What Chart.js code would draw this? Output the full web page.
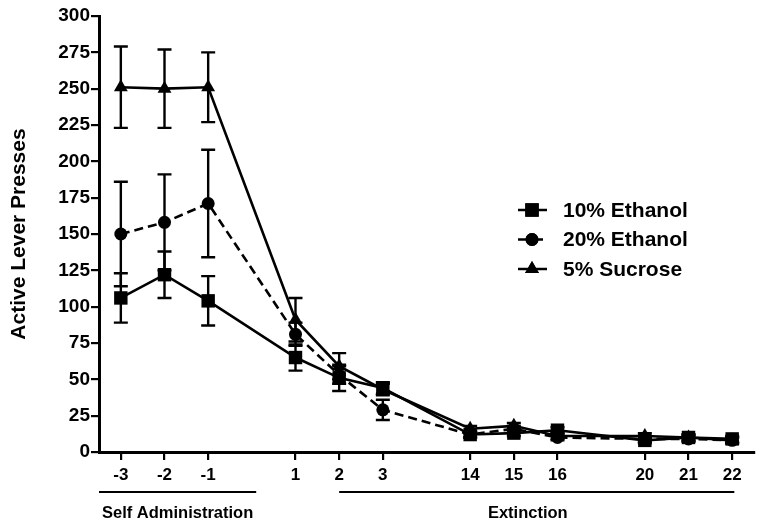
<!DOCTYPE html>
<html>
<head>
<meta charset="utf-8">
<script src="https://cdn.jsdelivr.net/npm/chart.js@4"></script>
<style>
  html, body { margin: 0; padding: 0; background: #fff; }
  #wrap { width: 764px; height: 529px; }
</style>
</head>
<body>
<div id="wrap"><canvas id="myChart" width="764" height="529"></canvas></div>
<script>
// sessions on the x axis, placed on an index scale with gaps between blocks
const sessions = ['-3', '-2', '-1', '1', '2', '3', '14', '15', '16', '20', '21', '22'];
const slots = [0, 1, 2, 4, 5, 6, 8, 9, 10, 12, 13, 14];

const eth10 = [106, 122, 104, 65, 51, 44, 12, 13, 15, 8, 10, 9];
const eth10Err = [17, 16, 17, 9, 9, 4, 2, 2, 2, 2, 2, 2];
const eth20 = [150, 158, 171, 81, 53, 29, 12, 16, 10, 9, 9, 8];
const eth20Err = [36, 33, 37, 8, 6, 7, 2, 2, 2, 2, 2, 2];
const sucrose = [251, 250, 251, 91, 59, 43, 16, 18, 11, 11, 10, 8];
const sucroseErr = [28, 27, 24, 15, 9, 4, 2, 2, 2, 2, 2, 2];

const yTicks = [0, 25, 50, 75, 100, 125, 150, 175, 200, 225, 250, 275, 300];

// phases under the axis (in slot units)
const phases = ['Self Administration', 'Extinction'];
const phaseFrom = [-0.5, 5];
const phaseTo = [3.1, 14.05];

const FONT = 'Liberation Sans, Arial, sans-serif';

function toPts(vals, errs) {
  return vals.map((v, i) => ({ x: slots[i], y: v, err: errs[i] }));
}

// error bars drawn through the chart scales
const errorBars = {
  id: 'errorBars',
  afterDatasetsDraw(chart) {
    const ctx = chart.ctx;
    const xs = chart.scales.x, ys = chart.scales.y;
    ctx.save();
    ctx.strokeStyle = '#000';
    ctx.lineWidth = 2.4;
    chart.data.datasets.forEach(ds => {
      ds.data.forEach(p => {
        const px = xs.getPixelForValue(p.x);
        const top = ys.getPixelForValue(p.y + p.err);
        const bot = ys.getPixelForValue(p.y - p.err);
        ctx.beginPath();
        ctx.moveTo(px, top); ctx.lineTo(px, bot);
        ctx.moveTo(px - 7, top); ctx.lineTo(px + 7, top);
        ctx.moveTo(px - 7, bot); ctx.lineTo(px + 7, bot);
        ctx.stroke();
      });
    });
    ctx.restore();
  }
};

// legend with line + marker samples, and the phase brackets below the axis
const extras = {
  id: 'extras',
  afterDraw(chart) {
    const ctx = chart.ctx;
    const xs = chart.scales.x;
    const area = chart.chartArea;
    ctx.save();
    ctx.fillStyle = '#000';
    ctx.strokeStyle = '#000';

    // legend
    ctx.font = 'bold 21px ' + FONT;
    ctx.textBaseline = 'middle';
    chart.data.datasets.forEach((ds, i) => {
      const y = 210 + i * 29.5;
      ctx.lineWidth = 2.5;
      ctx.setLineDash(ds.borderDash ? [10, 5] : []);
      ctx.beginPath();
      ctx.moveTo(518, y); ctx.lineTo(547, y);
      ctx.stroke();
      ctx.setLineDash([]);
      Chart.helpers.drawPoint(ctx, {
        pointStyle: ds.pointStyle, radius: ds.pointRadius, rotation: 0, borderWidth: 0
      }, 532, y);
      ctx.fill();
      ctx.fillText(ds.label, 563, y + 1);
    });

    // phase brackets
    ctx.lineWidth = 2.2;
    ctx.font = 'bold 16.5px ' + FONT;
    ctx.textAlign = 'center';
    ctx.textBaseline = 'alphabetic';
    phases.forEach((name, i) => {
      const a = xs.getPixelForValue(phaseFrom[i]);
      const b = xs.getPixelForValue(phaseTo[i]);
      ctx.beginPath();
      ctx.moveTo(a, area.bottom + 40); ctx.lineTo(b, area.bottom + 40);
      ctx.stroke();
      ctx.fillText(name, (a + b) / 2 - (i === 1 ? 9 : 0), area.bottom + 66);
    });
    ctx.restore();
  }
};

const baseSet = {
  borderColor: '#000',
  backgroundColor: '#000',
  pointBackgroundColor: '#000',
  pointBorderColor: '#000',
  borderWidth: 2.6,
  pointBorderWidth: 0,
  fill: false,
  tension: 0
};

const ctx = document.getElementById('myChart').getContext('2d');
new Chart(ctx, {
  type: 'line',
  data: {
    datasets: [
      Object.assign({}, baseSet, { label: '10% Ethanol', data: toPts(eth10, eth10Err), pointStyle: 'rect', pointRadius: 9.5 }),
      Object.assign({}, baseSet, { label: '20% Ethanol', data: toPts(eth20, eth20Err), pointStyle: 'circle', pointRadius: 6.5, borderDash: [9, 5] }),
      Object.assign({}, baseSet, { label: '5% Sucrose', data: toPts(sucrose, sucroseErr), pointStyle: 'triangle', pointRadius: 8 })
    ]
  },
  options: {
    responsive: false,
    animation: false,
    layout: { padding: { top: 16, right: 10, left: 7, bottom: 0 } },
    plugins: {
      legend: { display: false },
      tooltip: { enabled: false }
    },
    scales: {
      x: {
        type: 'linear',
        min: -0.5,
        max: 14.5,
        afterBuildTicks: scale => { scale.ticks = slots.map(v => ({ value: v })); },
        afterFit: scale => { scale.height = 77; },
        ticks: {
          callback: (v) => sessions[slots.indexOf(v)],
          color: '#000',
          font: { family: FONT, size: 17, weight: 'bold' },
          padding: 5,
          maxRotation: 0,
          autoSkip: false
        },
        grid: { display: true, drawOnChartArea: false, drawTicks: true, tickLength: 8, color: '#000', lineWidth: 2.2 },
        border: { display: true, color: '#000', width: 3 }
      },
      y: {
        min: 0,
        max: 300,
        afterBuildTicks: scale => { scale.ticks = yTicks.map(v => ({ value: v })); },
        afterFit: scale => { scale.width = 92; },
        ticks: {
          color: '#000',
          font: { family: FONT, size: 19, weight: 'bold' },
          padding: 1
        },
        grid: { display: true, drawOnChartArea: false, drawTicks: true, tickLength: 8, color: '#000', lineWidth: 2.2 },
        border: { display: true, color: '#000', width: 3 },
        title: {
          display: true,
          text: 'Active Lever Presses',
          color: '#000',
          font: { family: FONT, size: 21, weight: 'bold' },
          padding: { top: 0, bottom: 4 }
        }
      }
    }
  },
  plugins: [errorBars, extras]
});
</script>
</body>
</html>
